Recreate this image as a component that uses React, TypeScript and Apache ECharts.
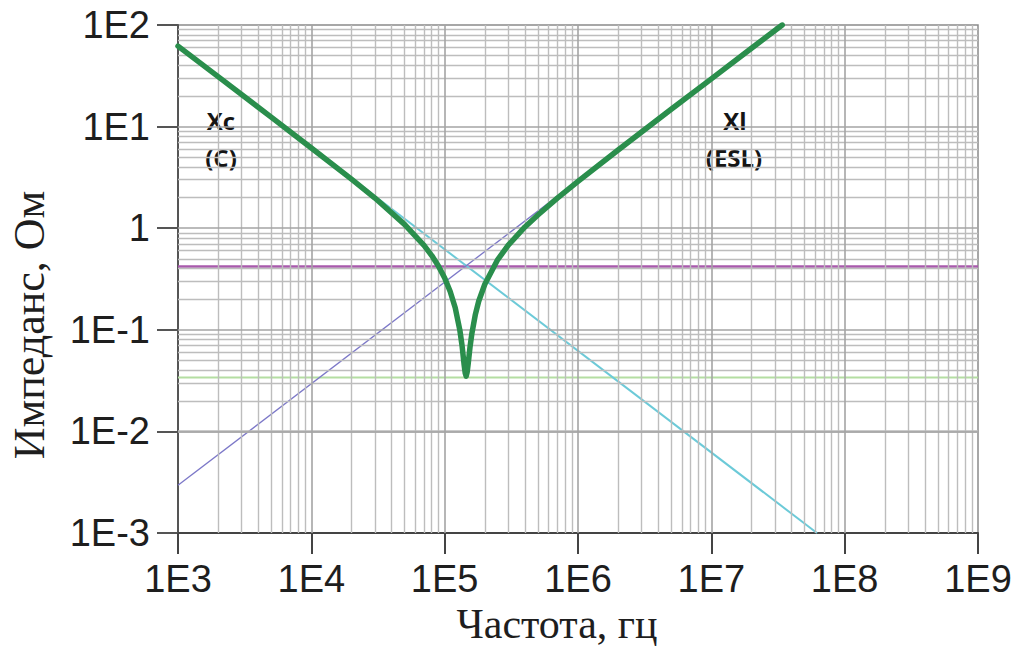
import React, { useEffect, useRef } from "react";
import * as echarts from "echarts";

// ---- data ----
// total impedance |Z| (thick green curve)
const totalFreq = [
  1e3, 2e3, 5e3, 1e4, 2e4, 3e4, 5e4, 7e4, 8e4, 9e4, 1e5, 1.1e5, 1.2e5, 1.3e5,
  1.35e5, 1.4e5, 1.425e5, 1.45e5, 1.475e5, 1.5e5, 1.55e5, 1.6e5, 1.7e5, 1.8e5,
  2e5, 2.5e5, 3e5, 4e5, 5e5, 7e5, 1e6, 2e6, 5e6, 1e7, 2e7, 3.4e7,
];
const totalZ = [
  61.9, 31.0, 12.4, 6.16, 3.04, 1.98, 1.09, 0.678, 0.538, 0.422, 0.324, 0.238,
  0.165, 0.099, 0.07, 0.045, 0.0376, 0.035, 0.0384, 0.046, 0.068, 0.092, 0.142,
  0.191, 0.281, 0.491, 0.68, 1.03, 1.35, 1.98, 2.89, 5.88, 14.8, 29.5, 59.1, 100,
];
// capacitive reactance Xc (cyan)
const capFreq = [1e3, 6.2e7];
const capZ = [61.9, 0.001];
// inductive reactance Xl (blue)
const indFreq = [1e3, 3.4e7];
const indZ = [0.00295, 100];
// horizontal reference levels
const levelFreq = [1e3, 1e9];
const crossLevel = [0.42, 0.42]; // magenta
const esrLevel = [0.034, 0.034]; // light green

// axis decades and minor multipliers for the grid
const xDecades = [1e3, 1e4, 1e5, 1e6, 1e7, 1e8, 1e9];
const yDecades = [1e-3, 1e-2, 1e-1, 1, 1e1, 1e2];
const minorMult = [2, 3, 4, 5, 6, 7, 8, 9];

const pairs = (xs: number[], ys: number[]) => xs.map((x, i) => [x, ys[i]]);

const fmt = (v: number) => {
  const e = Math.round(Math.log10(v));
  return e === 0 ? "1" : `1E${e}`;
};

export default function App() {
  const ref = useRef<HTMLDivElement>(null);
  useEffect(() => {
    if (!ref.current) return;
    const chart = echarts.init(ref.current, undefined, { renderer: "svg" });

    const minorX: any[] = [];
    xDecades.slice(0, -1).forEach((d) =>
      minorMult.forEach((m) => minorX.push({ xAxis: d * m }))
    );
    const minorY: any[] = [];
    yDecades.slice(0, -1).forEach((d) =>
      minorMult.forEach((m) => minorY.push({ yAxis: d * m }))
    );
    const majorX = xDecades.slice(1, -1).map((d) => ({ xAxis: d }));
    const majorY = yDecades.slice(1, -1).map((d) => ({ yAxis: d }));

    const markCommon = {
      silent: true,
      symbol: ["none", "none"],
      label: { show: false },
      emphasis: { disabled: true },
      animation: false,
    };

    const tickFont = "'Liberation Sans', Arial, sans-serif";
    const serif = "'Liberation Serif', 'Times New Roman', serif";
    const boldFont = "'Open Sans', 'Liberation Sans', sans-serif";

    const option: any = {
      animation: false,
      backgroundColor: "#ffffff",
      grid: {
        left: 178,
        right: 42,
        top: 25,
        bottom: 126,
        show: true,
        borderColor: "#8a8a8a",
        borderWidth: 1.5,
        backgroundColor: "#ffffff",
      },
      xAxis: {
        type: "log",
        logBase: 10,
        min: 1e3,
        max: 1e9,
        splitNumber: 6,
        axisLine: { show: true, onZero: false, lineStyle: { color: "#444", width: 2 } },
        axisTick: { show: true, length: 21, lineStyle: { color: "#444", width: 2 } },
        axisLabel: {
          formatter: fmt,
          fontFamily: tickFont,
          fontSize: 38,
          color: "#1e1e1e",
          margin: 27,
        },
        splitLine: { show: false },
      },
      yAxis: {
        type: "log",
        logBase: 10,
        min: 1e-3,
        max: 1e2,
        splitNumber: 5,
        axisLine: { show: true, onZero: false, lineStyle: { color: "#555", width: 2 } },
        axisTick: { show: true, length: 21, lineStyle: { color: "#555", width: 2 } },
        axisLabel: {
          formatter: fmt,
          fontFamily: tickFont,
          fontSize: 38,
          color: "#1e1e1e",
          margin: 28,
        },
        splitLine: { show: false },
      },
      series: [
        {
          type: "line",
          name: "grid",
          z: 1,
          data: [],
          silent: true,
          markLine: {
            ...markCommon,
            lineStyle: { type: "solid", color: "#bdbdbd", width: 1.4 },
            data: [...minorX, ...minorY],
          },
        },
        {
          type: "line",
          name: "gridMajor",
          z: 1,
          data: [],
          silent: true,
          markLine: {
            ...markCommon,
            lineStyle: { type: "solid", color: "#a4a4a4", width: 1.6 },
            data: [...majorX, ...majorY],
          },
        },
        {
          type: "line",
          name: "ESR",
          z: 3,
          data: pairs(levelFreq, esrLevel),
          showSymbol: false,
          lineStyle: { color: "#b4dea2", width: 2 },
        },
        {
          type: "line",
          name: "cross",
          z: 3,
          data: pairs(levelFreq, crossLevel),
          showSymbol: false,
          lineStyle: { color: "#a85aac", width: 2.6 },
        },
        {
          type: "line",
          name: "Xc",
          z: 4,
          data: pairs(capFreq, capZ),
          showSymbol: false,
          lineStyle: { color: "#6ccad8", width: 2 },
        },
        {
          type: "line",
          name: "Xl",
          z: 4,
          data: pairs(indFreq, indZ),
          showSymbol: false,
          lineStyle: { color: "#7c78c8", width: 1.3 },
        },
        {
          type: "line",
          name: "Z",
          z: 5,
          data: pairs(totalFreq, totalZ),
          showSymbol: false,
          smooth: false,
          lineStyle: { color: "#2a8e4c", width: 5.5, join: "round", cap: "round" },
        },
      ],
      graphic: [
        {
          type: "text",
          x: 221,
          y: 120,
          style: { text: "Xc", font: `bold 24px ${boldFont}`, fill: "#151515", align: "center", verticalAlign: "middle" },
        },
        {
          type: "text",
          x: 221,
          y: 157,
          style: { text: "(C)", font: `bold 24px ${boldFont}`, fill: "#151515", align: "center", verticalAlign: "middle" },
        },
        {
          type: "text",
          x: 735,
          y: 120,
          style: { text: "Xl", font: `bold 24px ${boldFont}`, fill: "#151515", align: "center", verticalAlign: "middle" },
        },
        {
          type: "text",
          x: 734,
          y: 157,
          style: { text: "(ESL)", font: `bold 24px ${boldFont}`, fill: "#151515", align: "center", verticalAlign: "middle" },
        },
        {
          type: "text",
          x: 557,
          y: 624,
          style: { text: "Частота, гц", font: `42px ${serif}`, fill: "#1e1e1e", align: "center", verticalAlign: "middle" },
        },
        {
          type: "text",
          x: 29,
          y: 325,
          rotation: Math.PI / 2,
          style: { text: "Импеданс, Ом", font: `44px ${serif}`, fill: "#1e1e1e", align: "center", verticalAlign: "middle" },
        },
      ],
    };
    chart.setOption(option);
    return () => chart.dispose();
  }, []);

  return (
    <div
      ref={ref}
      style={{ position: "fixed", left: 0, top: 0, width: 1020, height: 659, background: "#fff" }}
    />
  );
}
